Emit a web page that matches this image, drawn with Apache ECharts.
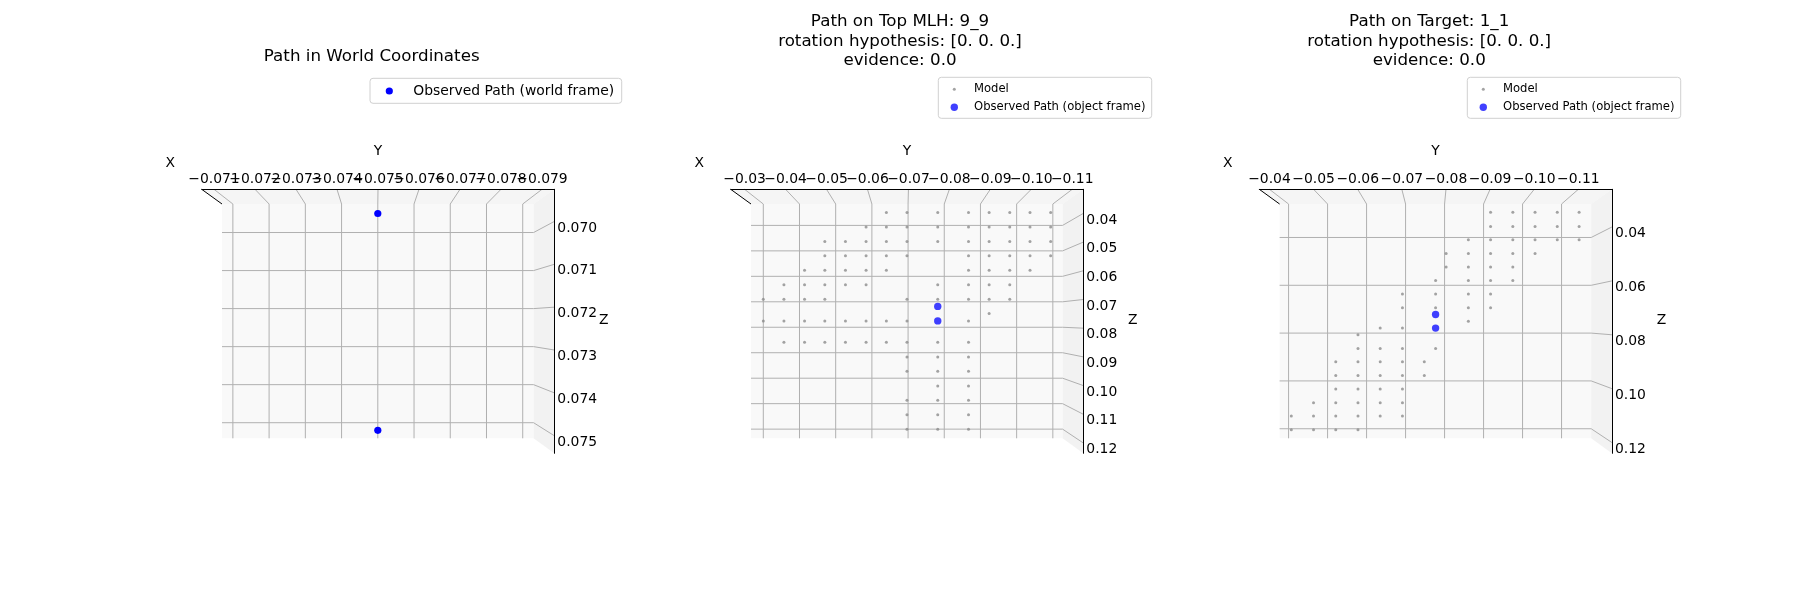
<!DOCTYPE html>
<html><head><meta charset="utf-8">
<script src="https://cdn.jsdelivr.net/npm/echarts@6/dist/echarts.min.js"></script>
<style>html,body{margin:0;padding:0;background:#fff}#c{width:1800px;height:600px}</style>
</head><body><div id="c"></div>
<script>
// ---------------- data ----------------
// Panel 1: world frame
const worldTitle = 'Path in World Coordinates';
const worldYRange = [-0.0793, -0.0707];
const worldZRange = [0.06925, 0.07541];
const worldYTicks = [-0.071, -0.072, -0.073, -0.074, -0.075, -0.076, -0.077, -0.078, -0.079];
const worldZTicks = [0.070, 0.071, 0.072, 0.073, 0.074, 0.075];
const worldPathY = [-0.0750, -0.0750];
const worldPathZ = [0.0695, 0.0752];

// Panel 2: top MLH
const mlhTitle = 'Path on Top MLH: 9_9\nrotation hypothesis: [0. 0. 0.]\nevidence: 0.0';
const mlhYRange = [-0.1127, -0.0266];
const mlhZRange = [0.0316, 0.1236];
const mlhYTicks = [-0.03, -0.04, -0.05, -0.06, -0.07, -0.08, -0.09, -0.10, -0.11];
const mlhZTicks = [0.04, 0.05, 0.06, 0.07, 0.08, 0.09, 0.10, 0.11, 0.12];
const mlhModelZRows = [0.0349, 0.0406, 0.0463, 0.0519, 0.0576, 0.0633, 0.0690, 0.0746, 0.0775, 0.0859, 0.0917, 0.0973, 0.1031, 0.1087, 0.1144, 0.1200];
const mlhModelYByRow = [
  [-0.0640, -0.0697, -0.0782, -0.0867, -0.0924, -0.0981, -0.1037, -0.1094],
  [-0.0584, -0.0640, -0.0697, -0.0782, -0.0867, -0.0924, -0.0981, -0.1037, -0.1094],
  [-0.0470, -0.0527, -0.0584, -0.0640, -0.0697, -0.0782, -0.0867, -0.0924, -0.0981, -0.1037, -0.1094],
  [-0.0470, -0.0527, -0.0584, -0.0640, -0.0697, -0.0867, -0.0924, -0.0981, -0.1037, -0.1094],
  [-0.0414, -0.0470, -0.0527, -0.0584, -0.0640, -0.0867, -0.0924, -0.0981, -0.1037],
  [-0.0357, -0.0414, -0.0470, -0.0527, -0.0584, -0.0782, -0.0867, -0.0924, -0.0981],
  [-0.0300, -0.0357, -0.0414, -0.0470, -0.0697, -0.0782, -0.0867, -0.0924, -0.0981],
  [-0.0924],
  [-0.0300, -0.0357, -0.0414, -0.0470, -0.0527, -0.0584, -0.0640, -0.0697, -0.0867],
  [-0.0357, -0.0414, -0.0470, -0.0527, -0.0584, -0.0640, -0.0697, -0.0782, -0.0867],
  [-0.0697, -0.0782, -0.0867],
  [-0.0697, -0.0782, -0.0867],
  [-0.0782, -0.0867],
  [-0.0697, -0.0782, -0.0867],
  [-0.0697, -0.0782, -0.0867],
  [-0.0697, -0.0782, -0.0867]
];
const mlhPathY = [-0.0782, -0.0782];
const mlhPathZ = [0.0718, 0.0775];

// Panel 3: target
const targetTitle = 'Path on Target: 1_1\nrotation hypothesis: [0. 0. 0.]\nevidence: 0.0';
const targetYRange = [-0.1176, -0.0377];
const targetZRange = [0.0260, 0.1240];
const targetYTicks = [-0.04, -0.05, -0.06, -0.07, -0.08, -0.09, -0.10, -0.11];
const targetZTicks = [0.04, 0.06, 0.08, 0.10, 0.12];
const targetModelZRows = [0.0295, 0.0354, 0.0410, 0.0467, 0.0523, 0.0580, 0.0636, 0.0694, 0.0750, 0.0779, 0.0807, 0.0864, 0.0920, 0.0977, 0.1034, 0.1091, 0.1147, 0.1204];
const targetModelYByRow = [
  [-0.0918, -0.0975, -0.1032, -0.1089, -0.1145],
  [-0.0918, -0.0975, -0.1032, -0.1089, -0.1145],
  [-0.0861, -0.0918, -0.0975, -0.1032, -0.1089, -0.1145],
  [-0.0804, -0.0861, -0.0918, -0.0975, -0.1032],
  [-0.0804, -0.0861, -0.0918, -0.0975],
  [-0.0777, -0.0861, -0.0918, -0.0975],
  [-0.0692, -0.0777, -0.0861, -0.0918],
  [-0.0692, -0.0777, -0.0861, -0.0918],
  [-0.0861],
  [-0.0635, -0.0692],
  [-0.0578],
  [-0.0578, -0.0635, -0.0692, -0.0777],
  [-0.0521, -0.0578, -0.0635, -0.0692, -0.0748],
  [-0.0521, -0.0578, -0.0635, -0.0692, -0.0748],
  [-0.0521, -0.0578, -0.0635, -0.0692],
  [-0.0464, -0.0521, -0.0578, -0.0635, -0.0692],
  [-0.0407, -0.0464, -0.0521, -0.0578, -0.0635, -0.0692],
  [-0.0407, -0.0464, -0.0521, -0.0578]
];
const targetPathY = [-0.0777, -0.0777];
const targetPathZ = [0.0722, 0.0779];

const worldLegend = ['Observed Path (world frame)'];
const objectLegend = ['Model', 'Observed Path (object frame)'];

// ---------------- build ----------------
const FONT = 'DejaVu Sans';
const zip = (a, b) => a.map((v, i) => [v, b[i]]);
const rowsToPoints = (zs, ys) => zs.flatMap((z, i) => ys[i].map(y => [y, z]));
const fmt = d => v => (v < 0 ? '\u2212' : '') + Math.abs(v).toFixed(d);

const panels = [
  { left: 201.7, yRange: worldYRange, zRange: worldZRange, yTicks: worldYTicks, zTicks: worldZTicks, dec: 3 },
  { left: 730.7, yRange: mlhYRange, zRange: mlhZRange, yTicks: mlhYTicks, zTicks: mlhZTicks, dec: 2 },
  { left: 1259.3, yRange: targetYRange, zRange: targetZRange, yTicks: targetYTicks, zTicks: targetZTicks, dec: 2 }
];
const OUT = { top: 189.3, width: 352.6, height: 264 };
const INN = { dx: 20.3, top: 204, width: 311.6, height: 234.3 };

const grids = [], xAxes = [], yAxes = [];
panels.forEach((p, i) => {
  grids.push({ left: p.left, top: OUT.top, width: OUT.width, height: OUT.height, containLabel: false });
  grids.push({ left: p.left + INN.dx, top: INN.top, width: INN.width, height: INN.height, containLabel: false });
  xAxes.push({
    gridIndex: 2 * i, type: 'value', position: 'top', inverse: true,
    min: p.yRange[0], max: p.yRange[1], z: 6,
    axisLine: { show: true, onZero: false, lineStyle: { color: '#000', width: 1 } },
    axisTick: { show: false }, splitLine: { show: false },
    axisLabel: { show: false }   // overlapping matplotlib-style labels drawn below
  });
  xAxes.push({ gridIndex: 2 * i + 1, type: 'value', inverse: true, min: p.yRange[0], max: p.yRange[1], show: false });
  yAxes.push({
    gridIndex: 2 * i, type: 'value', position: 'right', inverse: true,
    min: p.zRange[0], max: p.zRange[1], z: 6,
    axisLine: { show: true, onZero: false, lineStyle: { color: '#000', width: 1 } },
    axisTick: { show: false }, splitLine: { show: false },
    axisLabel: { customValues: p.zTicks, formatter: fmt(p.dec), color: '#000', fontSize: 13.9, fontFamily: FONT,
      margin: 3, verticalAlign: 'top', lineHeight: 13, showMinLabel: true, showMaxLabel: true, hideOverlap: false }
  });
  yAxes.push({ gridIndex: 2 * i + 1, type: 'value', inverse: true, min: p.zRange[0], max: p.zRange[1], show: false });
});

const MODEL_COLOR = '#8c8c8c';
const OBS_COLOR = '#0000ff';
const series = [
  { name: worldLegend[0], type: 'scatter', xAxisIndex: 1, yAxisIndex: 1, z: 5, symbolSize: 7.2,
    itemStyle: { color: OBS_COLOR, opacity: 1 }, data: zip(worldPathY, worldPathZ) },
  { name: objectLegend[0], type: 'scatter', xAxisIndex: 3, yAxisIndex: 3, z: 4, symbolSize: 3,
    itemStyle: { color: MODEL_COLOR, opacity: 0.8 }, data: rowsToPoints(mlhModelZRows, mlhModelYByRow) },
  { name: objectLegend[1], type: 'scatter', xAxisIndex: 3, yAxisIndex: 3, z: 5, symbolSize: 7.4,
    itemStyle: { color: OBS_COLOR, opacity: 0.75 }, data: zip(mlhPathY, mlhPathZ) },
  { name: objectLegend[0], type: 'scatter', xAxisIndex: 5, yAxisIndex: 5, z: 4, symbolSize: 3,
    itemStyle: { color: MODEL_COLOR, opacity: 0.8 }, data: rowsToPoints(targetModelZRows, targetModelYByRow) },
  { name: objectLegend[1], type: 'scatter', xAxisIndex: 5, yAxisIndex: 5, z: 5, symbolSize: 7.4,
    itemStyle: { color: OBS_COLOR, opacity: 0.75 }, data: zip(targetPathY, targetPathZ) }
];
series.forEach(s => { s.emphasis = { disabled: true }; s.silent = true; });

const titleStyle = { fontSize: 16.7, fontWeight: 'normal', color: '#000', fontFamily: FONT, lineHeight: 19.5 };
const option = {
  backgroundColor: '#fff',
  animation: false,
  title: [
    { text: worldTitle, left: 371.7, top: 47, textAlign: 'center', padding: 0, textStyle: titleStyle },
    { text: mlhTitle, left: 900, top: 12, textAlign: 'center', padding: 0, textStyle: titleStyle },
    { text: targetTitle, left: 1429.2, top: 12, textAlign: 'center', padding: 0, textStyle: titleStyle }
  ],
  grid: grids, xAxis: xAxes, yAxis: yAxes, series: series
};

const chart = echarts.init(document.getElementById('c'), null, { renderer: 'canvas' });
chart.setOption(option);

// ---------------- 3D pane decoration, positioned through the axes ----------------
const gx = (k, v) => chart.convertToPixel({ xAxisIndex: k }, v);
const gy = (k, v) => chart.convertToPixel({ yAxisIndex: k }, v);
const els = [];
const GRID = '#b0b0b0';
const txt = (s, x, y, size, align) => ({ type: 'text', z: 9, silent: true, x: x, y: y,
  style: { text: s, fill: '#000', fontSize: size, fontFamily: FONT, align: align || 'center', verticalAlign: 'middle' } });
panels.forEach((p, i) => {
  const o = 2 * i, n = 2 * i + 1;
  const oL = gx(o, p.yRange[1]), oR = gx(o, p.yRange[0]);
  const oT = gy(o, p.zRange[0]), oB = gy(o, p.zRange[1]);
  const iL = gx(n, p.yRange[1]), iR = gx(n, p.yRange[0]);
  const iT = gy(n, p.zRange[0]), iB = gy(n, p.zRange[1]);
  els.push({ type: 'polygon', z: 0, silent: true, shape: { points: [[oL, oT], [oR, oT], [iR, iT], [iL, iT]] }, style: { fill: '#f5f5f5' } });
  els.push({ type: 'rect', z: 0, silent: true, shape: { x: iL, y: iT, width: iR - iL, height: iB - iT }, style: { fill: '#f9f9f9' } });
  els.push({ type: 'polygon', z: 0, silent: true, shape: { points: [[iR, iT], [oR, oT], [oR, oB], [iR, iB]] }, style: { fill: '#f2f2f2' } });
  p.yTicks.forEach(v => {
    els.push({ type: 'polyline', z: 1, silent: true,
      shape: { points: [[gx(o, v), oT], [gx(n, v), iT], [gx(n, v), iB]] },
      style: { stroke: GRID, lineWidth: 1, fill: null } });
    els.push(txt(fmt(p.dec)(v), gx(o, v), oT - 9.6, 13.9));
  });
  p.zTicks.forEach(v => {
    els.push({ type: 'polyline', z: 1, silent: true,
      shape: { points: [[iL, gy(n, v)], [iR, gy(n, v)], [oR, gy(o, v)]] },
      style: { stroke: GRID, lineWidth: 1, fill: null } });
  });
  els.push({ type: 'line', z: 6, silent: true, shape: { x1: oL, y1: oT, x2: iL, y2: iT }, style: { stroke: '#000', lineWidth: 1 } });
  els.push(txt('X', oL - 31.5, oT - 26, 13.9));
  els.push(txt('Y', (oL + oR) / 2, oT - 38.3, 13.9));
  els.push(txt('Z', oR + 49.5, (oT + oB) / 2 - 1.3, 13.9));
});

// ---------------- legends (matplotlib-style boxes) ----------------
const legendBox = (x, y, w, h) => ({ type: 'rect', z: 7, silent: true, shape: { x: x, y: y, width: w, height: h, r: 3 },
  style: { fill: '#fff', stroke: '#d0d0d0', lineWidth: 1 } });
const dot = (x, y, r, color, op) => ({ type: 'circle', z: 8, silent: true, shape: { cx: x, cy: y, r: r },
  style: { fill: color, opacity: op } });
// panel 1
els.push(legendBox(370, 78.3, 251.7, 25));
els.push(dot(389.3, 91, 3.6, OBS_COLOR, 1));
els.push(txt(worldLegend[0], 413.3, 91, 13.9, 'left'));
// panels 2 and 3
[938.3, 1467.3].forEach(bx => {
  els.push(legendBox(bx, 77.3, 213.4, 41));
  els.push(dot(bx + 16, 89.3, 1.5, MODEL_COLOR, 0.8));
  els.push(txt(objectLegend[0], bx + 35.7, 89.3, 11.6, 'left'));
  els.push(dot(bx + 16, 107.3, 3.7, OBS_COLOR, 0.75));
  els.push(txt(objectLegend[1], bx + 35.7, 107.3, 11.6, 'left'));
});
chart.setOption({ graphic: { elements: els } });
</script>
</body></html>
